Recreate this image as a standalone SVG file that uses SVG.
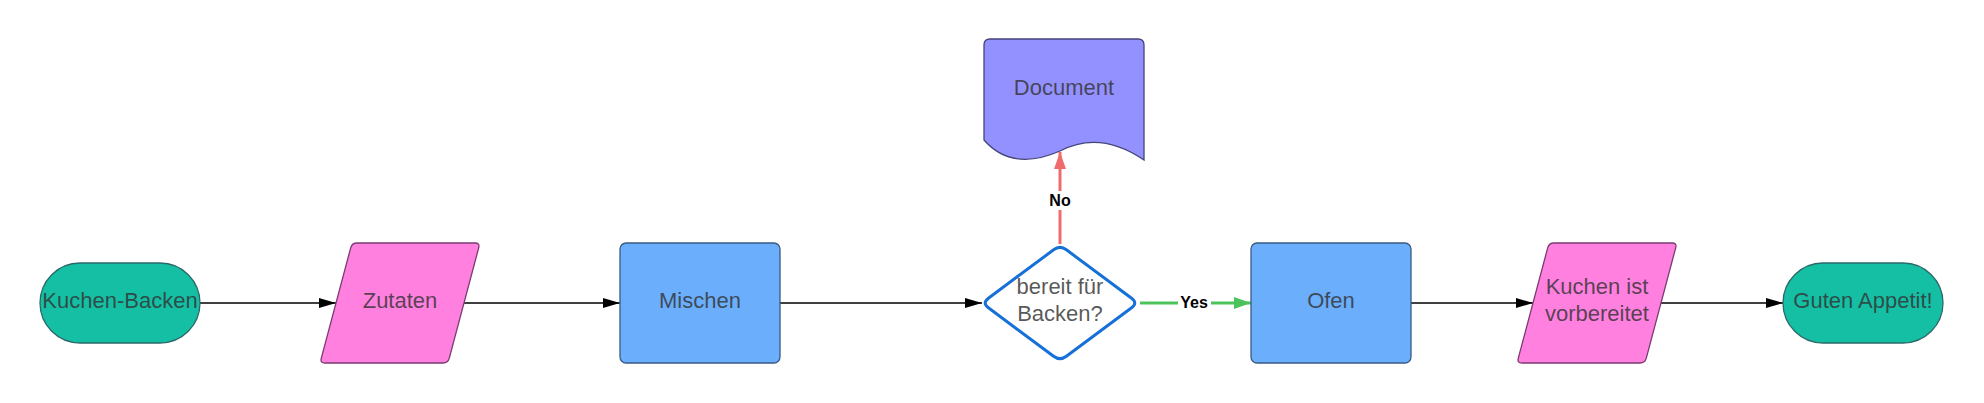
<svg xmlns="http://www.w3.org/2000/svg" width="1984" height="403" viewBox="0 0 1984 403">
<defs>
<style>
.lbl{font-family:"Liberation Sans",Arial,sans-serif;font-size:22px;fill:#333333;fill-opacity:0.82;text-anchor:middle}
.elab{font-family:"Liberation Sans",Arial,sans-serif;font-size:16px;font-weight:bold;fill:#000;text-anchor:middle}
.term{fill:#14bfa4;stroke:#2a6a6a;stroke-width:1.3}
.io{fill:#ff80df;stroke:#7a3a72;stroke-width:1.3;stroke-linejoin:round}
.proc{fill:#6aaefc;stroke:#3a5a82;stroke-width:1.3}
.doc{fill:#9391ff;stroke:#44447a;stroke-width:1.3}
.dec{fill:#ffffff;stroke:#1670d8;stroke-width:3;stroke-linejoin:round}
.conn{fill:none;stroke:#000;stroke-width:1.5}
</style>
<marker id="ab" markerUnits="userSpaceOnUse" markerWidth="18" markerHeight="12" refX="17" refY="5" orient="auto"><path d="M0,0 L17,5 L0,10 Z" fill="#000"/></marker>
<marker id="ag" markerUnits="userSpaceOnUse" markerWidth="18" markerHeight="14" refX="17" refY="6" orient="auto"><path d="M0,0 L17,6 L0,12 Z" fill="#4cc35a"/></marker>
<marker id="ar" markerUnits="userSpaceOnUse" markerWidth="18" markerHeight="14" refX="17" refY="6" orient="auto"><path d="M0,0 L17,6 L0,12 Z" fill="#f06b6b"/></marker>
</defs>
<rect width="1984" height="403" fill="#ffffff"/>
<g id="connectors">
<line class="conn" x1="200" y1="303" x2="336" y2="303" marker-end="url(#ab)"/>
<line class="conn" x1="464" y1="303" x2="620" y2="303" marker-end="url(#ab)"/>
<line class="conn" x1="780" y1="303" x2="982" y2="303" marker-end="url(#ab)"/>
<line x1="1140" y1="303" x2="1251" y2="303" stroke="#4cc35a" stroke-width="3" marker-end="url(#ag)"/>
<line x1="1060" y1="244" x2="1060" y2="152" stroke="#f06b6b" stroke-width="3" marker-end="url(#ar)"/>
<line class="conn" x1="1411" y1="303" x2="1533" y2="303" marker-end="url(#ab)"/>
<line class="conn" x1="1661" y1="303" x2="1783" y2="303" marker-end="url(#ab)"/>
<rect x="1178" y="293" width="33" height="18" fill="#ffffff"/>
<text class="elab" x="1194" y="308">Yes</text>
<rect x="1046" y="191" width="28" height="19" fill="#ffffff"/>
<text class="elab" x="1060" y="206">No</text>
</g>
<g id="start">
<rect class="term" x="40" y="263" width="160" height="80" rx="40" ry="40"/>
<text class="lbl" x="120" y="308">Kuchen-Backen</text>
</g>
<g id="zutaten">
<path class="io" d="M357,243 L475,243 Q480,243 478.7,247.8 L449.3,358.2 Q448,363 443,363 L325,363 Q320,363 321.3,358.2 L350.7,247.8 Q352,243 357,243 Z"/>
<text class="lbl" x="400" y="308">Zutaten</text>
</g>
<g id="mischen">
<rect class="proc" x="620" y="243" width="160" height="120" rx="6" ry="6"/>
<text class="lbl" x="700" y="308">Mischen</text>
</g>
<g id="decision">
<path class="dec" d="M988.4,298.2 L1053.6,249.8 Q1060,245 1066.4,249.8 L1131.6,298.2 Q1138,303 1131.6,307.8 L1066.4,356.2 Q1060,361 1053.6,356.2 L988.4,307.8 Q982,303 988.4,298.2 Z"/>
<text class="lbl" x="1060" y="294">bereit für</text>
<text class="lbl" x="1060" y="321">Backen?</text>
</g>
<g id="document">
<path class="doc" d="M984,45 Q984,39 990,39 L1138,39 Q1144,39 1144,45 L1144,160 Q1100,130 1060,151 Q1012,172 984,140 Z"/>
<text class="lbl" x="1064" y="95">Document</text>
</g>
<g id="ofen">
<rect class="proc" x="1251" y="243" width="160" height="120" rx="6" ry="6"/>
<text class="lbl" x="1331" y="308">Ofen</text>
</g>
<g id="kuchen-ist">
<path class="io" d="M1554,243 L1672,243 Q1677,243 1675.7,247.8 L1646.3,358.2 Q1645,363 1640,363 L1522,363 Q1517,363 1518.3,358.2 L1547.7,247.8 Q1549,243 1554,243 Z"/>
<text class="lbl" x="1597" y="294">Kuchen ist</text>
<text class="lbl" x="1597" y="321">vorbereitet</text>
</g>
<g id="end">
<rect class="term" x="1783" y="263" width="160" height="80" rx="40" ry="40"/>
<text class="lbl" x="1863" y="308">Guten Appetit!</text>
</g>
</svg>
